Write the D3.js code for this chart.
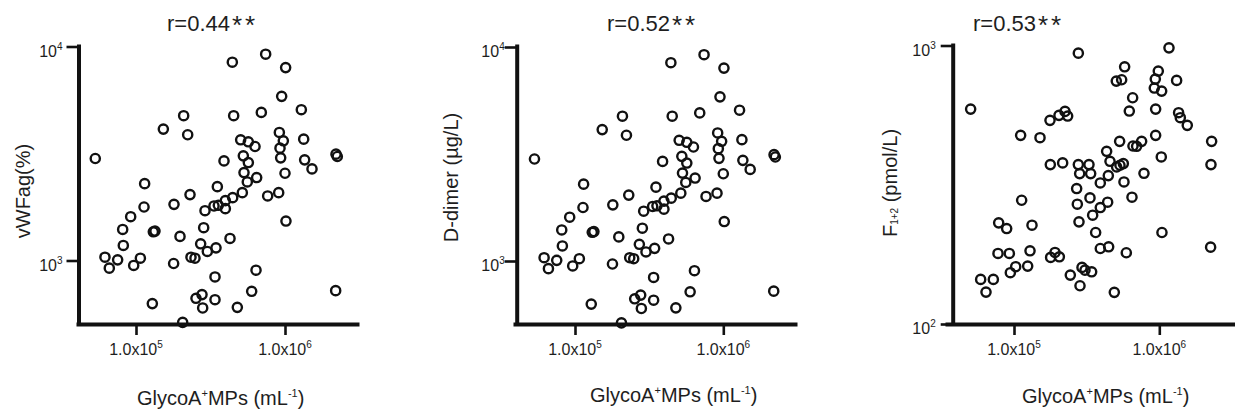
<!DOCTYPE html>
<html>
<head>
<meta charset="utf-8">
<style>
  body { margin: 0; background: #fff; }
  svg { display: block; font-family: 'Liberation Sans', Arial, sans-serif; }
  .axis .domain { stroke: #111; stroke-width: 4px; fill: none; }
  .axis .tick line { stroke: #111; stroke-width: 2.6px; }
  .dot { fill: none; stroke: #111; stroke-width: 2.4px; }
  text { fill: #1e1e1e; }
</style>
</head>
<body>
<svg id="chart" width="1235" height="412"></svg>

<script src="https://d3js.org/d3.v7.min.js"></script>
<script>
// GlycoA+ MPs (mL-1) vs vWFag (%)
const mps1 = [53300, 61900, 66200, 75300, 81400, 82200, 92100, 96500, 107000, 113200,
  114300, 128700, 130700, 134100, 152600, 178900, 179900, 197400, 205700, 208900,
  222300, 230400, 233900, 248800, 252700, 271600, 277300, 280200, 284600, 290500,
  301100, 333800, 339000, 339000, 344300, 351500, 357000, 389600, 397800, 397800,
  427500, 443100, 445500, 452400, 478700, 504000, 517100, 525300, 530700, 567500,
  567500, 558500, 597500, 629200, 639000, 645500, 693600, 741700, 765000, 907000,
  916300, 925600, 935200, 949800, 974500, 1000000, 1010000, 1015000, 1287000, 1335000,
  1355000, 1518000, 2199000, 2244000, 2188000];
const vwfag = [2996, 1036, 921, 1007, 1397, 1176, 1602, 948, 1025, 1778,
  2286, 629, 1362, 1372, 4111, 968, 1830, 1296, 514, 4749,
  3869, 2032, 1036, 1025, 666, 1197, 693, 600, 1423, 1709,
  1102, 1798, 838, 656, 1146, 2214, 1811, 2921, 1747, 1904,
  1268, 8446, 1967, 4749, 604, 3664, 2075, 3083, 2576, 3587,
  2869, 2328, 718, 3410, 901, 2441, 4922, 9205, 2003, 2075,
  3967, 3350, 3018, 5848, 3626, 2557, 7970, 1529, 5066, 3690,
  2953, 2680, 3140, 3062, 723];

// GlycoA+ MPs (mL-1) vs D-dimer (ug/L)
const mps2 = [53300, 61900, 66200, 75300, 81400, 82200, 92100, 96500, 107000, 113200,
  114300, 128700, 130700, 134100, 152600, 178900, 179900, 197400, 205700, 208900,
  222300, 230400, 233900, 248800, 252700, 271600, 277300, 280200, 284600, 290500,
  301100, 333800, 339000, 339000, 344300, 351500, 357000, 389600, 397800, 397800,
  427500, 443100, 445500, 452400, 478700, 504000, 517100, 525300, 530700, 567500,
  567500, 558500, 597500, 629200, 639000, 645500, 693600, 741700, 765000, 907000,
  916300, 925600, 935200, 949800, 974500, 1000000, 1010000, 1015000, 1287000, 1335000,
  1355000, 1518000, 2199000, 2244000, 2188000];
const ddimer = [2996, 1036, 921, 1007, 1397, 1176, 1602, 948, 1025, 1778,
  2286, 629, 1362, 1372, 4111, 968, 1830, 1296, 514, 4749,
  3869, 2032, 1036, 1025, 666, 1197, 693, 600, 1423, 1709,
  1102, 1798, 838, 656, 1146, 2214, 1811, 2921, 1747, 1904,
  1268, 8446, 1967, 4749, 604, 3664, 2075, 3083, 2576, 3587,
  2869, 2328, 718, 3410, 901, 2441, 4922, 9205, 2003, 2075,
  3967, 3350, 3018, 5848, 3626, 2557, 7970, 1529, 5066, 3690,
  2953, 2680, 3140, 3062, 723];

// GlycoA+ MPs (mL-1) vs F1+2 (pmol/L)
const mps3 = [50300, 58960, 64170, 72080, 78440, 77620, 89040, 92880, 94360, 102700,
  111100, 112900, 124200, 128900, 133000, 151000, 176900, 177800, 178700, 191500,
  204000, 205100, 216200, 224400, 234000, 244100, 269900, 272800, 277200, 277200,
  283100, 280100, 284600, 293800, 308000, 328100, 337000, 333400, 342300, 347800,
  364700, 392600, 392600, 392600, 434100, 441100, 445800, 448200, 457800, 490200,
  508600, 505900, 536200, 533400, 565300, 571300, 577400, 592900, 621700, 648600,
  655500, 658900, 698200, 755800, 784400, 923900, 938700, 943700, 943700, 984200,
  1038000, 1032000, 1043000, 1166000, 1316000, 1358000, 1395000, 1558000, 2292000, 2268000,
  2255000, 550700];
const f12 = [591, 144.6, 130.2, 144.6, 230.8, 179.2, 220.2, 179.2, 152.8, 160.6,
  475.8, 278.2, 161.4, 183.2, 226.3, 466.6, 538.5, 373.6, 173.4, 180.7,
  561.2, 174.3, 378.8, 580.0, 558.1, 149.8, 306.4, 269.2, 938.7, 373.6,
  346.7, 232.7, 137.2, 159.7, 156.1, 373.6, 346.7, 283.7, 154.0, 245.8,
  213.1, 321.0, 261.9, 186.7, 417.0, 273.7, 341.1, 189.3, 383.9, 129.9,
  366.4, 745.1, 371.5, 452.8, 376.6, 323.7, 838.4, 180.2, 581.6, 285.3,
  649.3, 435.7, 434.5, 452.8, 347.6, 703.3, 757.4, 591, 475.8, 809.1,
  686.0, 398.0, 213.1, 980.8, 749.3, 573.7, 550.5, 516.8, 452.8, 373.6,
  188.8, 753.3];

const titles = ["r=0.44", "r=0.52", "r=0.53"];
const xTicks = [1e5, 1e6];
const xTickExp = ["5", "6"];
const yTicks = [[1e3, 1e4], [1e3, 1e4], [1e2, 1e3]];
const yTickExp = [["3", "4"], ["3", "4"], ["2", "3"]];

// where each panel sits on the page
const panels = [
  { xs: mps1, ys: vwfag, axisX: 78.5, xl: 76, xr: 359, t5: 136, t6: 285,
    yLoPx: 260.5, yHiPx: 46.5, yTop: 44, titleX: 167, yLabX: 30, yLabY: 191,
    xLabX: 137, xLabY: 405, tickGap: 16 },
  { xs: mps2, ys: ddimer, axisX: 516.7, xl: 513, xr: 797, t5: 575, t6: 723.3,
    yLoPx: 261, yHiPx: 47, yTop: 44, titleX: 607, yLabX: 458, yLabY: 177.5,
    xLabX: 590, xLabY: 402, tickGap: 12 },
  { xs: mps3, ys: f12, axisX: 952.7, xl: 945, xr: 1235, t5: 1014, t6: 1159.3,
    yLoPx: 324, yHiPx: 45.5, yTop: 43, titleX: 973, yLabX: 897, yLabY: 183,
    xLabX: 1022, xLabY: 403, tickGap: 17 }
];
const axisY = 324;

const svg = d3.select("#chart");
svg.append("rect").attr("width", 1235).attr("height", 412).attr("fill", "#fff");

panels.forEach(function(p, i) {
  let xBase = d3.scaleLog().domain(xTicks).range([p.t5, p.t6]);
  let x = d3.scaleLog()
    .domain([xBase.invert(p.xl), xBase.invert(p.xr)])
    .range([p.xl, p.xr]);

  let yBase = d3.scaleLog().domain(yTicks[i]).range([p.yLoPx, p.yHiPx]);
  let y = d3.scaleLog()
    .domain([yBase.invert(axisY), yBase.invert(p.yTop)])
    .range([axisY, p.yTop]);

  let g = svg.append("g");

  // points
  g.append("g")
    .selectAll("circle")
    .data(d3.zip(p.xs, p.ys))
    .join("circle")
    .attr("class", "dot")
    .attr("cx", d => x(d[0]))
    .attr("cy", d => y(d[1]))
    .attr("r", 4.6);

  // x axis
  g.append("g")
    .attr("class", "axis")
    .attr("transform", `translate(0, ${axisY})`)
    .call(d3.axisBottom(x).tickValues(xTicks).tickSize(11).tickSizeOuter(0).tickFormat(""));

  xTicks.forEach(function(v, k) {
    let t = g.append("text")
      .attr("x", x(v))
      .attr("y", 355)
      .attr("text-anchor", "middle")
      .attr("font-size", "16px");
    t.append("tspan").text("1.0x10");
    t.append("tspan").attr("font-size", "10px").attr("dy", -7).text(xTickExp[k]);
  });

  // y axis
  g.append("g")
    .attr("class", "axis")
    .attr("transform", `translate(${p.axisX}, 0)`)
    .call(d3.axisLeft(y).tickValues(yTicks[i]).tickSize(12).tickSizeOuter(0).tickFormat(""));

  yTicks[i].forEach(function(v, k) {
    let t = g.append("text")
      .attr("x", p.axisX - p.tickGap)
      .attr("y", y(v) + 10)
      .attr("text-anchor", "end")
      .attr("font-size", "16px");
    t.append("tspan").text("10");
    t.append("tspan").attr("font-size", "10px").attr("dy", -7).text(yTickExp[i][k]);
  });

  // title
  let title = g.append("text")
    .attr("x", p.titleX)
    .attr("y", 30.7)
    .attr("font-size", "22px");
  title.append("tspan").text(titles[i]);
  title.append("tspan")
    .attr("font-size", "26px")
    .attr("dx", 2)
    .attr("dy", 3)
    .attr("letter-spacing", "3px")
    .text("**");

  // x label
  let xl = g.append("text")
    .attr("x", p.xLabX)
    .attr("y", p.xLabY)
    .attr("font-size", "20px");
  xl.append("tspan").text("GlycoA");
  xl.append("tspan").attr("font-size", "11px").attr("dy", -8).text("+");
  xl.append("tspan").attr("dy", 8).text("MPs (mL");
  xl.append("tspan").attr("font-size", "11px").attr("dy", -8).text("-1");
  xl.append("tspan").attr("dy", 8).text(")");
});

// y labels
function yLabel(p) {
  return svg.append("text")
    .attr("transform", `translate(${p.yLabX}, ${p.yLabY}) rotate(-90)`)
    .attr("text-anchor", "middle")
    .attr("font-size", "20px");
}
yLabel(panels[0]).text("vWFag(%)");
yLabel(panels[1]).text("D-dimer (\u00b5g/L)");
let fl = yLabel(panels[2]);
fl.append("tspan").text("F");
fl.append("tspan").attr("font-size", "10px").attr("dy", 1).text("1+2");
fl.append("tspan").attr("dy", -1).text(" (pmol/L)");
</script>
</body>
</html>
